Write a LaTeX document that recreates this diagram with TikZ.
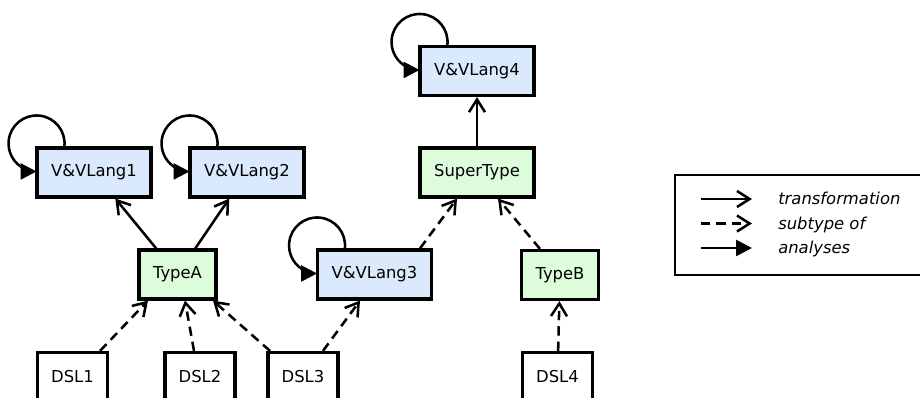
\documentclass[tikz,border=0pt]{standalone}
\usepackage{fontspec}
\setmainfont{DejaVu Sans}
\usepackage{xcolor}
\usetikzlibrary{arrows.meta,calc,positioning}
\definecolor{langblue}{RGB}{218,234,252}
\definecolor{typegreen}{RGB}{220,252,220}

\begin{document}
\begin{tikzpicture}[x=0.75pt, y=-0.75pt,
		trans/.style = {line width=1.9pt,-{Straight Barb[length=9.5pt,width=12pt]}},
		sub/.style = {trans, dash pattern=on 7pt off 4.5pt},
		ana/.style = {line width=1.9pt,-{Triangle[length=12pt,width=12pt]}},
		font=\fontsize{12.3pt}{14pt}\selectfont]
		\tikzset{box/.style={draw,rectangle,line width=2.4pt,inner sep=0pt,minimum height=36.75pt,text centered}}
		\tikzset{lang/.style={box,fill=langblue,minimum width=85.5pt}}
		\tikzset{type/.style={box,fill=typegreen,minimum width=57.75pt}}
		\tikzset{dsl/.style={box,fill=white,minimum width=52.5pt}}
		\tikzset{legendtext/.style={anchor=base west,inner sep=0pt,font=\fontsize{12.3pt}{14pt}\selectfont\itshape}}
		\useasboundingbox (0,0) rectangle (920,398);

		\node[lang] (v4) at (477,71) {V\&VLang4};
		\node[lang] (v1) at (94,172.5) {V\&VLang1};
		\node[lang] (v2) at (247,172.5) {V\&VLang2};
		\node[type, minimum width=85.5pt] (super) at (477,172.5) {SuperType};

		\node[type] (typeA) at (177.5,274.5) {TypeA};
		\node[lang] (v3) at (374.5,274.5) {V\&VLang3};
		\node[type] (typeB) at (560,275) {TypeB};

		\node[dsl] (dsl1) at (72.5,377) {DSL1};
		\node[dsl] (dsl2) at (200,377) {DSL2};
		\node[dsl] (dsl3) at (303,377) {DSL3};
		\node[dsl] (dsl4) at (557.5,377) {DSL4};

		% analyses loops
		\draw [ana] ($(v1.north west)+(29,0)$) arc[start angle=6, end angle=-270, radius=28];
		\draw [ana] ($(v2.north west)+(29,0)$) arc[start angle=6, end angle=-270, radius=28];
		\draw [ana] ($(v3.north west)+(29,0)$) arc[start angle=6, end angle=-270, radius=28];
		\draw [ana] ($(v4.north west)+(29,0)$) arc[start angle=6, end angle=-270, radius=28];

		% transformations
		\draw [trans] (typeA) -- (v1);
		\draw [trans] (typeA) -- (v2);
		\draw [trans] (super) -- (v4);

		% subtypes
		\draw [sub] ($(v3.north)+(45.5,0)$) -- ($(super.south)+(-20,0)$);
		\draw [sub] ($(typeB.north)+(-20,0)$) -- ($(super.south)+(21,0)$);
		\draw [sub] (dsl4) -- (typeB);
		\draw [sub] ($(dsl1.north)+(27.5,0)$) -- ($(typeA.south)+(-29.5,0)$);
		\draw [sub] ($(dsl2.north)+(-6,0)$) -- ($(typeA.south)+(7.5,0)$);
		\draw [sub] ($(dsl3.north)+(-33,0)$) -- ($(typeA.south)+(35.5,0)$);
		\draw [sub] ($(dsl3.north)+(20,0)$) -- ($(v3.south)+(-14.5,0)$);

		% legend
		\draw [line width=1.9pt] (675,175) rectangle (935,275);
		\coordinate (ta) at (701,199);
		\coordinate (tb) at (752,199);
		\coordinate (sa) at (701,223.5);
		\coordinate (sb) at (752,223.5);
		\coordinate (aa) at (701,248);
		\coordinate (ab) at (752,248);
		\draw [trans] (ta) -- (tb);
		\draw [sub] (sa) -- (sb);
		\draw [ana] (aa) -- (ab);
		\node[legendtext] (ltrans) at (778,205) {transformation};
		\node[legendtext] (lsub) at (778,229.5) {subtype of};
		\node[legendtext] (lana) at (778,254) {analyses};

	\end{tikzpicture}
\end{document}
